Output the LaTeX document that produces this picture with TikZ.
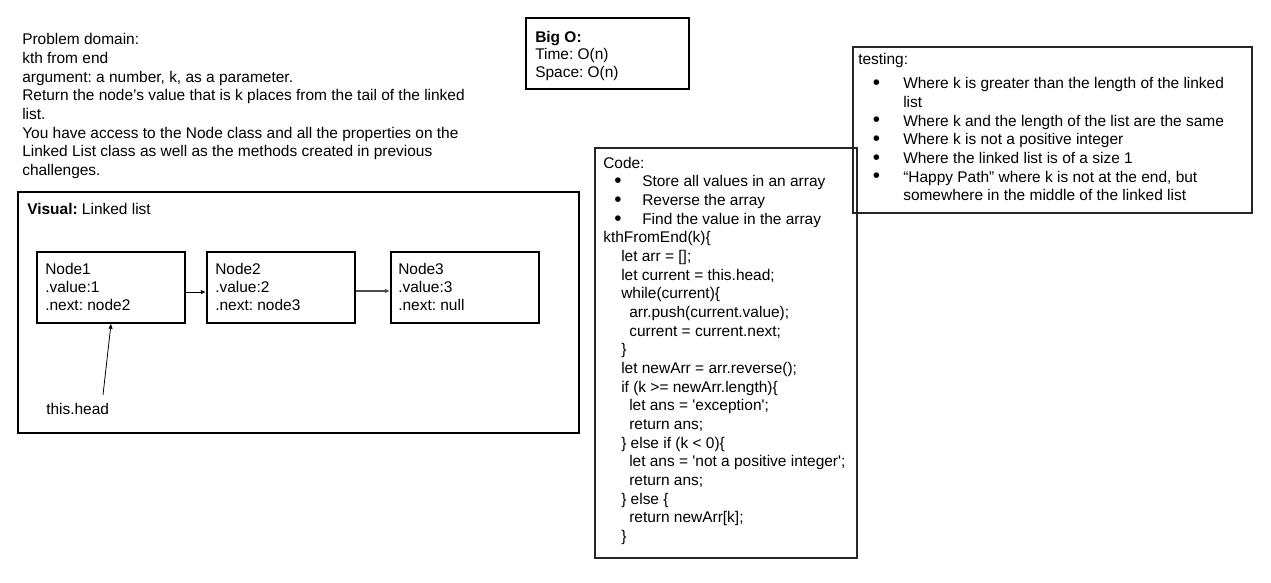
\documentclass[tikz,border=0pt]{standalone}
\usepackage{fontspec}
\setmainfont{Liberation Sans}
\newfontfamily\af{Liberation Sans}
\usetikzlibrary{arrows.meta}
\newlength\px
\setlength\px{0.75pt}
\newcommand\F{\af\fontsize{11.6}{14}\selectfont\frenchspacing}
\newcommand\bul[1]{\hspace*{#1\px}\makebox[0pt][l]{\raisebox{-0.6pt}{\fontsize{15.5}{14}\selectfont •}}}
\tikzset{
  txt/.style={anchor=north west, inner sep=0pt, align=left, font=\F, text=black},
  boxthick/.style={draw=black, line width=2pt},
  boxnode/.style={draw=black, line width=1.5pt, minimum width=148\px, minimum height=71\px, inner sep=0pt},
  boxthin/.style={draw=black!85, line width=1pt},
  conn/.style={draw=black, line width=0.6pt, -{Triangle[length=3.5pt,width=3pt]}},
}
\begin{document}
\begin{tikzpicture}[x=\px,y=-\px]
\useasboundingbox (0,0) rectangle (1271,582);
% Problem domain text
\node[txt] (prob) at (22,44.5-13.1) {\strut Problem domain:\\
kth from end\\
argument: a number, k, as a parameter.\\
Return the node’s value that is k places from the tail of the linked\\
list.\\
You have access to the Node class and all the properties on the\\
Linked List class as well as the methods created in previous\\
challenges.};
% Big O box
\draw[boxthick, line width=1.9pt] (526,18) rectangle (689,89);
\node[txt] (bigo) at (535,42-13.1) {\strut\textbf{Big O:}\\[-0.7pt]Time: O(n)\\[-0.7pt]Space: O(n)};
% testing box
\draw[boxthin] (853,47) rectangle (1252,213);
\node[txt] (testhead) at (858,64-13.1) {\strut testing:};
\node[txt] (testlist) at (858,88.5-13.1) {\strut\bul{14.5}\hspace*{30.5\px}Where k is greater than the length of the linked\\
\hspace*{45\px}list\\
\bul{14.5}\hspace*{30.5\px}Where k and the length of the list are the same\\
\bul{14.5}\hspace*{30.5\px}Where k is not a positive integer\\
\bul{14.5}\hspace*{30.5\px}Where the linked list is of a size 1\\
\bul{14.5}\hspace*{30.5\px}“Happy Path” where k is not at the end, but\\
\hspace*{45\px}somewhere in the middle of the linked list};
% Code box
\draw[boxthin] (595,148) rectangle (857,558);
\node[txt] (code) at (603,168-13.1) {\strut Code:\\
\bul{11}\hspace*{28\px}Store all values in an array\\
\bul{11}\hspace*{28\px}Reverse the array\\
\bul{11}\hspace*{28\px}Find the value in the array\\
kthFromEnd(k)\{\\
\hspace*{18\px}let arr = [];\\
\hspace*{18\px}let current = this.head;\\
\hspace*{18\px}while(current)\{\\
\hspace*{26\px}arr.push(current.value);\\
\hspace*{26\px}current = current.next;\\
\hspace*{18\px}\}\\
\hspace*{18\px}let newArr = arr.reverse();\\
\hspace*{18\px}if (k >= newArr.length)\{\\
\hspace*{26\px}let ans = 'exception';\\
\hspace*{26\px}return ans;\\
\hspace*{18\px}\} else if (k < 0)\{\\
\hspace*{26\px}let ans = 'not a positive integer';\\
\hspace*{26\px}return ans;\\
\hspace*{18\px}\} else \{\\
\hspace*{26\px}return newArr[k];\\
\hspace*{18\px}\}};
% Visual box
\draw[boxthick] (18,192) rectangle (579,433);
\node[txt] (vis) at (27,214-13.1) {\strut\textbf{Visual:} Linked list};
% linked list nodes
\node[boxnode] (n1) at (111,287.5) {};
\node[boxnode] (n2) at (280.5,287.5) {};
\node[boxnode] (n3) at (464.5,287.5) {};
\node[txt] (t1) at (45,274.5-13.1) {\strut Node1\\[-0.7pt].value:1\\[-0.7pt].next: node2};
\node[txt] (t2) at (215,274.5-13.1) {\strut Node2\\[-0.7pt].value:2\\[-0.7pt].next: node3};
\node[txt] (t3) at (398,274.5-13.1) {\strut Node3\\[-0.7pt].value:3\\[-0.7pt].next: null};
\draw[conn] ([yshift=-3.4pt]n1.east) -- ([yshift=-3.4pt]n2.west);
\draw[conn, draw=black!70, line width=0.9pt] ([yshift=-2.6pt]n2.east) -- ([yshift=-2.6pt]n3.west);
% this.head
\node[txt] (head) at (46,414-13.1) {\strut this.head};
\coordinate (ht) at (103,395);
\draw[conn] (ht) -- (n1.south);
\end{tikzpicture}
\end{document}
